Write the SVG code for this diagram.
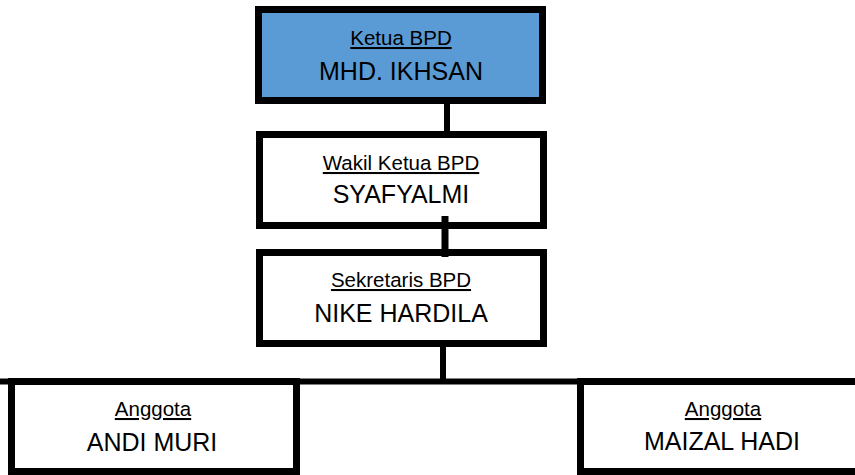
<svg xmlns="http://www.w3.org/2000/svg" width="855" height="475" viewBox="0 0 855 475">
<style>
.box{fill:#ffffff;stroke:#000000;stroke-width:7}
.head{fill:#5b9bd5}
.lbl{font-family:"Liberation Sans",Arial,sans-serif;font-size:20.5px;text-decoration:underline;text-anchor:middle;fill:#000000}
.name{font-family:"Liberation Sans",Arial,sans-serif;font-size:25px;text-anchor:middle;fill:#000000}
.conn{stroke:#000000;fill:none}
</style>
<rect width="855" height="475" fill="#ffffff"/>
<g id="ketua">
<rect class="box head" x="258.5" y="9.5" width="284" height="91"/>
<text class="lbl" x="401" y="45">Ketua BPD</text>
<text class="name" x="401" y="80">MHD. IKHSAN</text>
</g>
<g id="wakil">
<rect class="box" x="259.5" y="134.5" width="284" height="91"/>
<text class="lbl" x="401" y="170">Wakil Ketua BPD</text>
<text class="name" x="401" y="203">SYAFYALMI</text>
</g>
<g id="sekretaris">
<rect class="box" x="259.5" y="252.5" width="284" height="91"/>
<text class="lbl" x="401" y="287">Sekretaris BPD</text>
<text class="name" x="401" y="322">NIKE HARDILA</text>
</g>
<g id="anggota1">
<rect class="box" x="11.5" y="381.5" width="285" height="90"/>
<text class="lbl" x="153" y="416">Anggota</text>
<text class="name" x="152" y="451">ANDI MURI</text>
</g>
<g id="anggota2">
<rect class="box" x="580.5" y="381.5" width="290" height="90"/>
<text class="lbl" x="723" y="416">Anggota</text>
<text class="name" x="722" y="450">MAIZAL HADI</text>
</g>
<g id="connectors">
<line class="conn" x1="447" y1="104" x2="447" y2="131" stroke-width="6"/>
<line class="conn" x1="445" y1="216" x2="445" y2="257" stroke-width="7"/>
<line class="conn" x1="443" y1="340" x2="443" y2="384" stroke-width="6"/>
<line class="conn" x1="0" y1="381.5" x2="855" y2="381.5" stroke-width="6"/>
</g>
</svg>
